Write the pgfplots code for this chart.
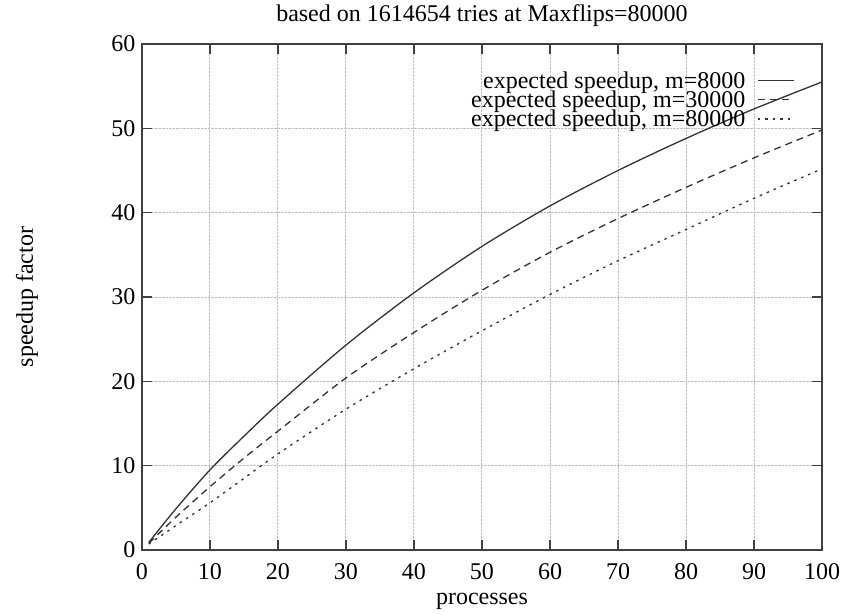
\documentclass[border=0pt]{standalone}
\usepackage{fontspec}
\setmainfont{Liberation Serif}
\usepackage{pgfplots}
\pgfplotsset{compat=1.18}
\begin{document}
\begin{tikzpicture}[x=1pt,y=1pt]
\useasboundingbox (-142pt,-64pt) rectangle (705pt,550pt);
\begin{axis}[at={(0,0)}, anchor=south west, scale only axis, width=680pt, height=506pt,
 xmin=0,xmax=100,ymin=0,ymax=60, xtick={0,10,...,100}, ytick={0,10,...,60},
 tick align=inside, tick pos=both, major tick length=10pt,
 grid=major, grid style={densely dotted, gray!50, line width=1pt},
 axis line style={line width=1.4pt, black!75},
 every tick/.style={line width=1.4pt, black!75},
 /pgf/number format/assume math mode=true,
 font=\fontsize{24}{28}\selectfont,
 xticklabel style={yshift=-10pt},
 yticklabel style={xshift=-3pt},
 title={based on 1614654 tries at Maxflips=80000},
 title style={at={(axis description cs:0.5,1.045)}, anchor=center},
 xlabel={processes}, ylabel={speedup factor},
 xlabel style={at={(axis description cs:0.5,-0.102)}, anchor=center},
 ylabel style={at={(axis description cs:-0.169,0.5)}, anchor=center},
 legend style={draw=none, fill=none, at={(axis description cs:0.96,0.95)}, anchor=north east, row sep=-3pt, column sep=10pt, inner sep=0pt, font=\fontsize{24}{28}\selectfont},
 legend cell align=right,
 legend plot pos=right,
 legend image code/.code={\draw[#1] (0pt,0pt) -- (36pt,0pt);},
 every axis plot/.append style={line width=1.3pt, black!80},
]
\addplot[smooth] coordinates {(1,0.9) (5,4.9) (10,9.5) (15,13.5) (20,17.3) (30,24.3) (40,30.5) (50,36) (60,40.8) (70,45) (80,48.8) (90,52.3) (100,55.5)};
\addlegendentry{expected speedup, m=8000}
\addplot[smooth, dash pattern=on 7pt off 5pt] coordinates {(1,0.8) (5,3.9) (10,7.5) (15,10.9) (20,14.1) (30,20.4) (40,25.8) (50,30.8) (60,35.3) (70,39.3) (80,43) (90,46.5) (100,49.8)};
\addlegendentry{expected speedup, m=30000}
\addplot[smooth, dash pattern=on 2.5pt off 5pt] coordinates {(1,0.7) (5,2.9) (10,5.6) (15,8.5) (20,11.4) (30,16.7) (40,21.5) (50,26) (60,30.3) (70,34.3) (80,38) (90,41.7) (100,45.2)};
\addlegendentry{expected speedup, m=80000}
\end{axis}
\end{tikzpicture}
\end{document}
